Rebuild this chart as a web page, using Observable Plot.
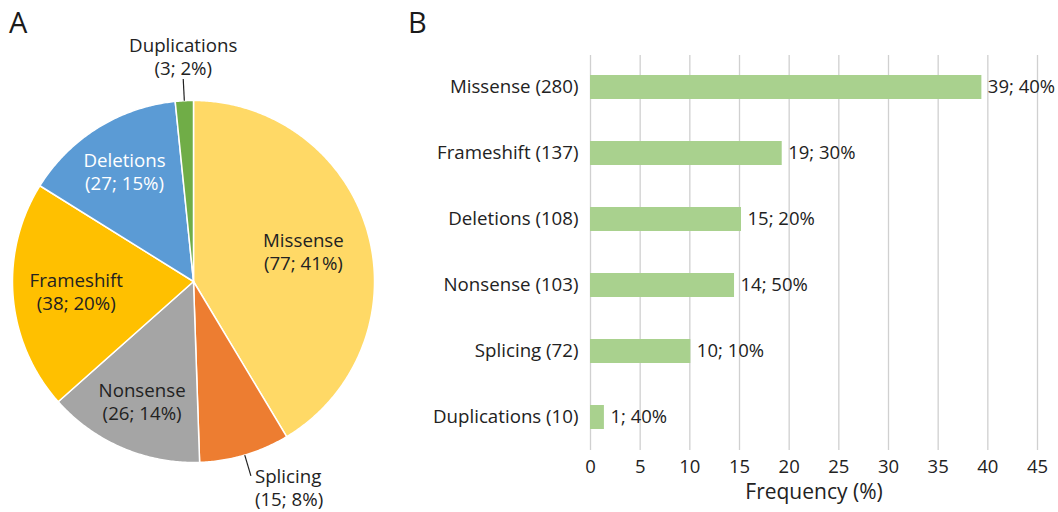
<!DOCTYPE html>
<html><head><meta charset="utf-8">
<script src="https://cdn.jsdelivr.net/npm/d3@7"></script>
<script src="https://cdn.jsdelivr.net/npm/@observablehq/plot@0.6"></script>
<style>
body{margin:0;background:#fff;font-family:"Open Sans",sans-serif;}
#wrap{position:relative;width:1058px;height:512px;overflow:hidden;}
#pie{position:absolute;left:0;top:0;}
#bar{position:absolute;left:400px;top:0;}
.panel{position:absolute;font-family:"Open Sans",sans-serif;font-size:29px;color:#1a1a1a;line-height:1;}
</style></head><body>
<div id="wrap"><div id="pie"></div><div id="bar"></div>
<div class="panel" style="left:9px;top:7px">A</div>
<div class="panel" style="left:408px;top:7px">B</div></div>
<script>
// ---- Panel A data (pie) ----
const pieCategories = ["Missense","Splicing","Nonsense","Frameshift","Deletions","Duplications"];
const pieCounts = [77,15,26,38,27,3];
const piePercents = [41,8,14,20,15,2];
const pieColors = ["#FFD966","#ED7D31","#A5A5A5","#FFC000","#5B9BD5","#70AD47"];

// ---- Panel B data (bars) ----
const barCategories = ["Missense","Frameshift","Deletions","Nonsense","Splicing","Duplications"];
const barCounts = [280,137,108,103,72,10];
const barValues = [39.4,19.3,15.2,14.5,10.1,1.4];
const barLabels = ["39; 40%","19; 30%","15; 20%","14; 50%","10; 10%","1; 40%"];
const xTicks = [0,5,10,15,20,25,30,35,40,45];

const TEXT = "#222222";
const FONT = "Open Sans";
const FS = 18.7;

// ---- Pie geometry via d3.pie ----
const pieData = pieCategories.map((name,i)=>({name,count:pieCounts[i],pct:piePercents[i],color:pieColors[i]}));
const arcs = d3.pie().sort(null).value(d=>d.count)(pieData);
const total = d3.sum(pieCounts);
const polys = [];
for (const a of arcs) {
  polys.push({name:a.data.name,color:a.data.color,x:0,y:0});
  const n = Math.max(2, Math.ceil((a.endAngle-a.startAngle)/(Math.PI/360)));
  for (let k=0;k<=n;k++){
    const t = a.startAngle + (a.endAngle-a.startAngle)*k/n;
    polys.push({name:a.data.name,color:a.data.color,x:Math.sin(t),y:-Math.cos(t)});
  }
  polys.push({name:a.data.name,color:a.data.color,x:0,y:0});
}
const inner = [], outer = [];
for (const a of arcs) {
  const m = (a.startAngle+a.endAngle)/2;
  const share = a.data.count/total;
  const txt = `${a.data.name}\n(${a.data.count}; ${a.data.pct}%)`;
  if (share >= 0.1) {
    const r = share > 0.3 ? 0.63 : share > 0.17 ? 0.65 : 0.72;
    inner.push({x:r*Math.sin(m),y:-r*Math.cos(m),text:txt,fill:a.data.name==="Deletions"?"#ffffff":TEXT});
  } else {
    const x1=Math.sin(m), y1=-Math.cos(m), x2=1.12*Math.sin(m), y2=-1.12*Math.cos(m);
    outer.push({x1,y1,x2,y2,text:txt,top:y2<0});
  }
}
const cx=193, cy=281, R=181;
const pie = Plot.plot({
  width:400,height:512,margin:0,
  x:{domain:[-1,1],range:[cx-R,cx+R],axis:null},
  y:{domain:[-1,1],range:[cy-R,cy+R],axis:null},
  color:{type:"identity"},
  style:{fontFamily:FONT,background:"transparent",overflow:"visible"},
  marks:[
    Plot.line(polys,{x:"x",y:"y",z:"name",fill:"color",stroke:"white",strokeWidth:1.5,strokeLinejoin:"round",curve:"linear"}),
    Plot.text(inner,{x:"x",y:"y",text:"text",fill:"fill",fontSize:FS,lineHeight:1.23,fontFamily:FONT}),
    Plot.link(outer,{x1:"x1",y1:"y1",x2:"x2",y2:"y2",stroke:TEXT,strokeWidth:1.2}),
    Plot.text(outer.filter(d=>d.top),{x:"x2",y:"y2",text:"text",fill:TEXT,fontSize:FS,lineHeight:1.23,textAnchor:"middle",lineAnchor:"bottom",dy:-4,fontFamily:FONT}),
    Plot.text(outer.filter(d=>!d.top),{x:"x2",y:"y2",text:"text",fill:TEXT,fontSize:FS,lineHeight:1.23,textAnchor:"start",lineAnchor:"top",dx:4,dy:-9,fontFamily:FONT})
  ]
});
document.getElementById("pie").appendChild(pie);

// ---- Bar chart ----
const barData = barCategories.map((name,i)=>({label:`${name} (${barCounts[i]})`,value:barValues[i],text:barLabels[i]}));
const bar = Plot.plot({
  width:658,height:512,marginLeft:190,marginRight:21,marginTop:52,marginBottom:60,
  x:{domain:[0,45]},
  y:{domain:barData.map(d=>d.label),paddingInner:0.64,paddingOuter:0.32},
  style:{fontFamily:FONT,fontSize:"18.5px",color:TEXT,background:"transparent",overflow:"visible"},
  marks:[
    Plot.gridX(xTicks,{stroke:"#d0d0d0",strokeOpacity:1,strokeWidth:1.3,insetTop:3,insetBottom:2}),
    Plot.barX(barData,{x:"value",y:"label",fill:"#A9D18E"}),
    Plot.text(barData,{x:"value",y:"label",text:"text",dx:6,textAnchor:"start",fill:TEXT,fontSize:18.5,fontFamily:FONT}),
    Plot.axisX(xTicks,{tickSize:0,tickPadding:7,label:null,fontSize:18.5,fontFamily:FONT}),
    Plot.axisY({tickSize:0,tickPadding:12,label:null,fontSize:18.7,fontFamily:FONT}),
    Plot.text(["Frequency (%)"],{text:d=>d,frameAnchor:"bottom",dy:46,fill:TEXT,fontSize:21,fontFamily:FONT})
  ]
});
document.getElementById("bar").appendChild(bar);
</script>
</body></html>
